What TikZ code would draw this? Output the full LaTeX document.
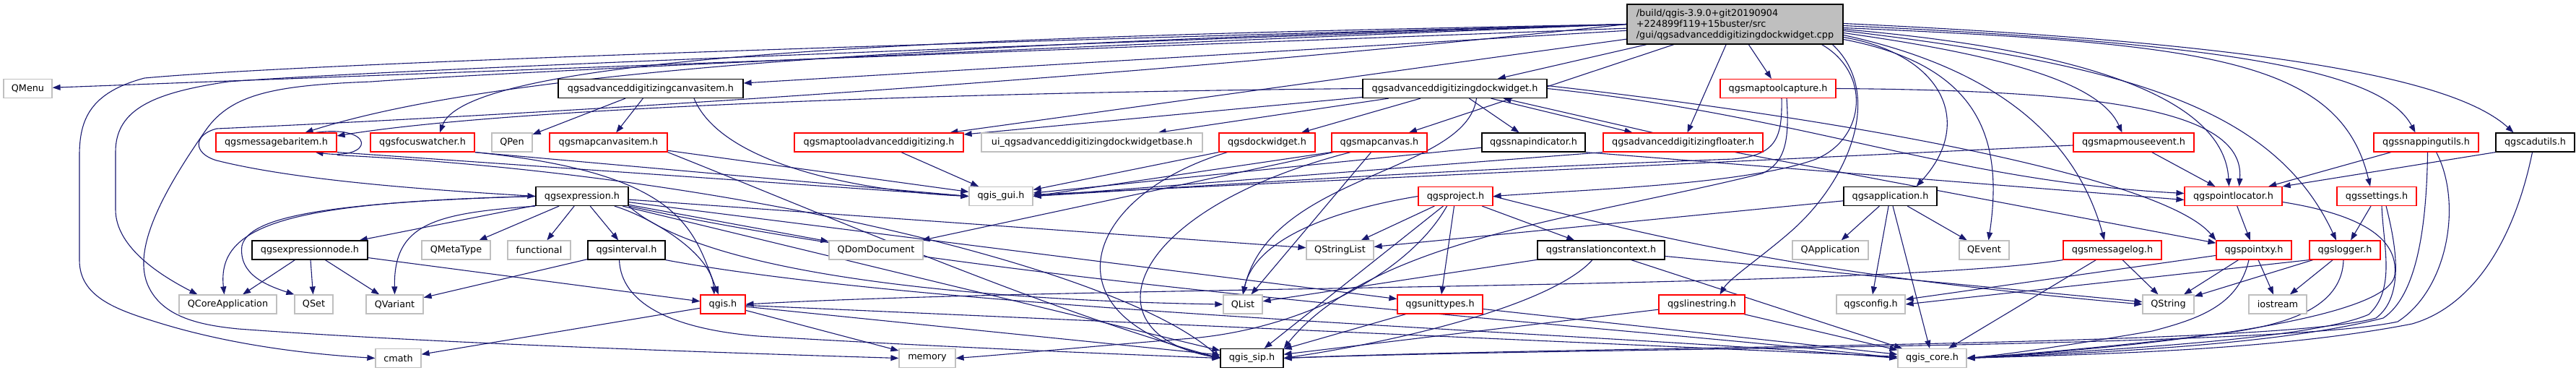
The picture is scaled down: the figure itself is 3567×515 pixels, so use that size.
\documentclass[tikz,border=0pt]{standalone}
\usepackage{fontspec}
\setmainfont{DejaVu Sans}
\usetikzlibrary{arrows.meta}
\pgfdeclarelayer{background}
\pgfsetlayers{background,main}
\definecolor{edgeblue}{HTML}{191970}
\definecolor{extgray}{HTML}{BFBFBF}
\definecolor{truncred}{HTML}{FF0000}

\begin{document}
\begin{tikzpicture}[x=1pt, y=-1pt,
  filebox/.style={draw, line width=1.2pt, fill=white, minimum height=26pt, inner sep=0pt,
    font=\fontsize{12.8}{15}\selectfont},
  ext/.style={filebox, draw=extgray},
  trunc/.style={filebox, draw=truncred},
  doc/.style={filebox, draw=black},
  rootbox/.style={filebox, draw=black, fill=extgray, align=left, minimum height=55pt},
  dep/.style={draw=edgeblue, line width=1.1pt, -{Triangle[length=11pt,width=8pt]}}
]
\useasboundingbox (0,0) rectangle (3567,515);

% the file itself
\node[rootbox, minimum width=299] (root) at (2402.5,33.5)
  {/build/qgis-3.9.0+git20190904\\+224899f119+15buster/src\\/gui/qgsadvanceddigitizingdockwidget.cpp};

% included files, one row per rank
\foreach \nd/\cx/\bw/\kind/\lbl in {
  qmenu/38.5/67/ext/QMenu,
  canvasitem/901/256/doc/qgsadvanceddigitizingcanvasitem.h,
  dockh/2014.5/255/doc/qgsadvanceddigitizingdockwidget.h,
  capture/2462/160/trunc/qgsmaptoolcapture.h}
  \node[\kind, minimum width=\bw] (\nd) at (\cx,122.5) {\lbl};

\foreach \nd/\cx/\bw/\kind/\lbl in {
  msgitem/382.5/167/trunc/qgsmessagebaritem.h,
  focus/585/144/trunc/qgsfocuswatcher.h,
  qpen/709/56/ext/QPen,
  mapitem/842.5/163/trunc/qgsmapcanvasitem.h,
  tooladv/1217/234/trunc/qgsmaptooladvanceddigitizing.h,
  uibase/1512/306/ext/ui\_qgsadvanceddigitizingdockwidgetbase.h,
  dockw/1754.5/133/trunc/qgsdockwidget.h,
  canvas/1910/132/trunc/qgsmapcanvas.h,
  snapind/2123.5/143/doc/qgssnapindicator.h,
  floater/2330.5/221/trunc/qgsadvanceddigitizingfloater.h,
  mouseev/2954.5/167/trunc/qgsmapmouseevent.h,
  snaputil/3359.5/145/trunc/qgssnappingutils.h,
  cadutil/3510.5/109/doc/qgscadutils.h}
  \node[\kind, minimum width=\bw] (\nd) at (\cx,197) {\lbl};

\foreach \nd/\cx/\bw/\kind/\lbl in {
  expr/806/128/doc/qgsexpression.h,
  guih/1386/88/ext/qgis\_gui.h,
  project/2015.5/103/trunc/qgsproject.h,
  app/2617.5/129/doc/qgsapplication.h,
  locator/3092.5/135/trunc/qgspointlocator.h,
  settings/3291/110/trunc/qgssettings.h}
  \node[\kind, minimum width=\bw] (\nd) at (\cx,271.5) {\lbl};

\foreach \nd/\cx/\bw/\kind/\lbl in {
  exprnode/429/160/doc/qgsexpressionnode.h,
  qmetatype/631.5/95/ext/QMetaType,
  functional/746.5/87/ext/functional,
  interval/867.5/107/doc/qgsinterval.h,
  qdomdoc/1213/130/ext/QDomDocument,
  qstringlist/1855.5/93/ext/QStringList,
  transctx/2217/176/doc/qgstranslationcontext.h,
  qapplication/2534.5/105/ext/QApplication,
  qevent/2747.5/69/ext/QEvent,
  msglog/2925/136/trunc/qgsmessagelog.h,
  pointxy/3121/104/trunc/qgspointxy.h,
  logger/3247/98/trunc/qgslogger.h}
  \node[\kind, minimum width=\bw] (\nd) at (\cx,346) {\lbl};

\foreach \nd/\cx/\bw/\kind/\lbl in {
  qcoreapp/315.5/135/ext/QCoreApplication,
  qset/434.5/53/ext/QSet,
  qvariant/546.5/79/ext/QVariant,
  qgish/1001/62/trunc/qgis.h,
  qlist/1721/54/ext/QList,
  unittypes/1994/118/trunc/qgsunittypes.h,
  linestring/2356.5/119/trunc/qgslinestring.h,
  configh/2590.5/95/ext/qgsconfig.h,
  qstring/3002.5/71/ext/QString,
  iostream/3154/80/ext/iostream}
  \node[\kind, minimum width=\bw] (\nd) at (\cx,421) {\lbl};

\foreach \nd/\cx/\bw/\kind/\lbl in {
  cmath/551.5/63/ext/cmath,
  memory/1284/78/ext/memory,
  siph/1733.5/87/doc/qgis\_sip.h,
  coreh/2675.5/95/ext/qgis\_core.h}
  \node[\kind, minimum width=\bw] (\nd) at (\cx,495.5) {\lbl};

\begin{pgfonlayer}{background}
% straight includes
\foreach \src/\dst in {
  root/qmenu, root/canvasitem, root/dockh, root/tooladv, root/canvas, root/floater, root/capture,
  canvasitem/qpen, canvasitem/mapitem,
  dockh/uibase, dockh/dockw, dockh/snapind, dockh/tooladv,
  mapitem/guih, tooladv/guih, dockw/guih, snapind/guih, mouseev/guih,
  canvas/qdomdoc, canvas/qlist, floater/pointxy,
  mouseev/locator, snaputil/locator, settings/logger, locator/pointxy,
  expr/exprnode, expr/qmetatype, expr/functional, expr/interval, expr/qdomdoc,
  expr/qstringlist, expr/unittypes, expr/siph,
  exprnode/qcoreapp, exprnode/qset, exprnode/qvariant, exprnode/qgish,
  interval/qvariant,
  project/qstringlist, project/transctx, project/unittypes, project/siph,
  app/qapplication, app/qevent, app/configh, app/coreh, app/qstringlist,
  transctx/qlist, transctx/qstring, transctx/coreh,
  msglog/qstring, msglog/coreh,
  pointxy/qstring, pointxy/iostream, pointxy/configh,
  logger/qstring, logger/iostream,
  unittypes/siph, unittypes/coreh, linestring/siph, linestring/coreh,
  qgish/cmath, qgish/memory, qgish/siph, qgish/coreh}
  \draw[dep] (\src) -- (\dst);

% root: long routes round the left
\draw[dep] (root.west) .. controls (1200,62) and (420,88) .. (200,108)
  .. controls (125,128) and (110,165) .. (110,215) -- (110,360)
  .. controls (110,410) and (160,428) .. (215,445)
  .. controls (320,478) and (430,490) .. (cmath.west);
\draw[dep] (root.west) .. controls (1200,70) and (480,100) .. (316,113)
  .. controls (215,128) and (160,150) .. (160,210) -- (160,290)
  .. controls (160,345) and (230,385) .. ([xshift=-42]qcoreapp.north);
\draw[dep] (root.west) .. controls (1100,80) and (620,105) .. (514,113)
  .. controls (380,118) and (320,130) .. (285,180)
  .. controls (215,280) and (185,350) .. (205,395)
  .. controls (225,440) and (280,450) .. (330,455)
  .. controls (600,475) and (1000,488) .. (memory.west);
\draw[dep] (root.west) .. controls (1300,60) and (700,95) .. ([xshift=40]msgitem.north);
\draw[dep] (root.west) .. controls (1400,50) and (650,70) .. ([xshift=24]focus.north);
\draw[dep] (root.west) .. controls (1500,115) and (700,160) .. (300,178)
  .. controls (268,186) and (266,212) .. (300,222)
  .. controls (420,252) and (620,264) .. (expr.west);

% root: routes to the right
\draw[dep] ([yshift=-18]root.east) .. controls (2690,75) and (2735,170) .. ([xshift=36]app.north);
\draw[dep] ([yshift=-21]root.east) .. controls (2740,90) and (2775,190) .. ([xshift=6]qevent.north);
\draw[dep] ([yshift=-15]root.east) .. controls (2790,100) and (2880,210) .. ([xshift=-11]msglog.north);
\draw[dep] ([yshift=-12]root.east) .. controls (2800,80) and (2910,120) .. ([xshift=-16]mouseev.north);
\draw[dep] ([yshift=-7]root.east) .. controls (2900,70) and (3080,140) .. ([xshift=-6]locator.north);
\draw[dep] ([yshift=-9]root.east) .. controls (2950,90) and (3150,150) .. ([xshift=-12]logger.north);
\draw[dep] ([yshift=-5]root.east) .. controls (3050,60) and (3240,80) .. ([xshift=-9]settings.north);
\draw[dep] ([yshift=-2]root.east) .. controls (3100,60) and (3300,100) .. ([xshift=-15]snaputil.north);
\draw[dep] ([yshift=1]root.east) .. controls (3150,60) and (3400,110) .. ([xshift=-30]cadutil.north);
\draw[dep] ([xshift=120]root.south) .. controls (2590,100) and (2585,190) .. (2515,220)
  .. controls (2420,255) and (2200,262) .. (project.east);
\draw[dep] ([xshift=135]root.south) .. controls (2610,130) and (2560,250) .. (2480,320)
  .. controls (2440,355) and (2395,385) .. ([xshift=25]linestring.north);

% dock widget header
\draw[dep] (dockh.west) .. controls (1300,128) and (700,150) .. ([yshift=9]msgitem.east);
\draw[dep] ([xshift=50]dockh.south) -- ([xshift=-70]floater.north);
\draw[dep] ([xshift=-42]floater.north) -- ([xshift=67]dockh.south);
\draw[dep] ([xshift=30]dockh.south) .. controls (2030,240) and (1760,240) .. (qlist.north);
\draw[dep] (dockh.east) .. controls (2500,160) and (2700,250) .. ([yshift=4]locator.west);
\draw[dep] ([yshift=4]dockh.east) .. controls (2600,170) and (3000,250) .. (pointxy.north west);

% map tool capture
\draw[dep] (capture.east) .. controls (2900,125) and (3110,150) .. ([xshift=8]locator.north);
\draw[dep] ([xshift=5]capture.south) .. controls (2468,190) and (2460,215) .. (2400,220)
  .. controls (2000,235) and (1700,255) .. (guih.east);
\draw[dep] ([xshift=12]capture.south) .. controls (2478,195) and (2472,225) .. (2440,240)
  .. controls (2200,300) and (1900,330) .. (siph.north east);

% gui headers
\draw[dep] ([xshift=-30]msgitem.north east) .. controls (520,172) and (520,222) .. ([xshift=-30]msgitem.south east);
\draw[dep] (msgitem.south east) -- (guih.west);
\draw[dep] ([yshift=-4]msgitem.south east) .. controls (1000,240) and (1550,370) .. (siph.west);
\draw[dep] (focus.south east) -- (guih.west);
\draw[dep] (focus.south east) .. controls (950,240) and (960,320) .. ([xshift=-6]qgish.north);
\draw[dep] ([xshift=60]canvasitem.south) .. controls (1000,230) and (1200,265) .. (guih.west);
\draw[dep] (mapitem.south east) .. controls (1150,300) and (1450,430) .. (siph.west);
\draw[dep] ([xshift=-55]dockw.south) .. controls (1500,270) and (1440,440) .. (siph.west);
\draw[dep] ([xshift=-40]canvas.south) .. controls (1560,290) and (1500,460) .. (siph.west);
\draw[dep] (canvas.south west) -- (guih.east);
\draw[dep] (floater.south west) -- (guih.east);
\draw[dep] (snapind.south east) -- ([yshift=-5]locator.west);
\draw[dep] (cadutil.south west) -- (locator.north east);

% expression
\draw[dep] (expr.west) .. controls (400,280) and (300,310) .. ([xshift=-5]qcoreapp.north);
\draw[dep] (expr.west) .. controls (450,280) and (345,300) .. (335,340)
  .. controls (330,380) and (370,395) .. (qset.north west);
\draw[dep] (expr.south west) .. controls (600,295) and (545,310) .. (qvariant.north);
\draw[dep] (expr) .. controls (900,300) and (985,350) .. ([xshift=-12]qgish.north);
\draw[dep] (expr.south east) .. controls (1000,400) and (1500,418) .. (qlist.west);
\draw[dep] (expr.south east) .. controls (1400,400) and (2300,455) .. (coreh.west);
\draw[dep] ([xshift=-10]interval.south) .. controls (860,420) and (930,455) .. (1050,465)
  .. controls (1300,480) and (1550,490) .. (siph.west);
\draw[dep] (interval.south east) .. controls (1300,430) and (2200,460) .. (coreh.west);

% project and core side
\draw[dep] (project.west) .. controls (1880,285) and (1740,320) .. (qlist.north);
\draw[dep] ([xshift=-12]project.south) .. controls (1950,380) and (1800,455) .. (1650,468)
  .. controls (1500,480) and (1400,490) .. (memory.east);
\draw[dep] (project.east) .. controls (2300,330) and (2500,380) .. (qstring.west);
\draw[dep] ([xshift=-12]transctx.south) .. controls (2150,420) and (1950,470) .. (siph.east);
\draw[dep] (msglog.south west) .. controls (2600,400) and (1500,395) .. (qgish.east);
\draw[dep] (logger.south west) -- (configh.east);

% down the right edge into qgis_core.h and qgis_sip.h
\draw[dep] ([yshift=-8]locator.east) .. controls (3290,300) and (3320,340) .. (3316,380)
  .. controls (3310,440) and (3000,478) .. (coreh.east);
\draw[dep] ([xshift=7]settings.south) .. controls (3300,340) and (3318,400) .. (3280,435)
  .. controls (3200,470) and (2900,485) .. (coreh.east);
\draw[dep] ([xshift=13]settings.south) .. controls (3318,340) and (3330,410) .. (3290,440)
  .. controls (3150,480) and (2200,478) .. (siph.east);
\draw[dep] ([xshift=2]snaputil.south) .. controls (3360,320) and (3345,410) .. (3300,440)
  .. controls (3150,478) and (2900,488) .. (coreh.east);
\draw[dep] ([xshift=14]snaputil.south) .. controls (3410,280) and (3390,400) .. (3320,445)
  .. controls (3150,482) and (2200,480) .. (siph.east);
\draw[dep] ([xshift=-4]cadutil.south) .. controls (3480,340) and (3420,425) .. (3340,448)
  .. controls (3150,485) and (2900,490) .. (coreh.east);
\draw[dep] ([xshift=-2]logger.south) .. controls (3243,420) and (3180,445) .. (3100,458)
  .. controls (2950,478) and (2800,490) .. (coreh.east);
\draw[dep] ([xshift=-7]pointxy.south) .. controls (3100,420) and (3050,440) .. (2980,458)
  .. controls (2850,480) and (2780,490) .. (coreh.east);
\end{pgfonlayer}
\end{tikzpicture}
\end{document}
